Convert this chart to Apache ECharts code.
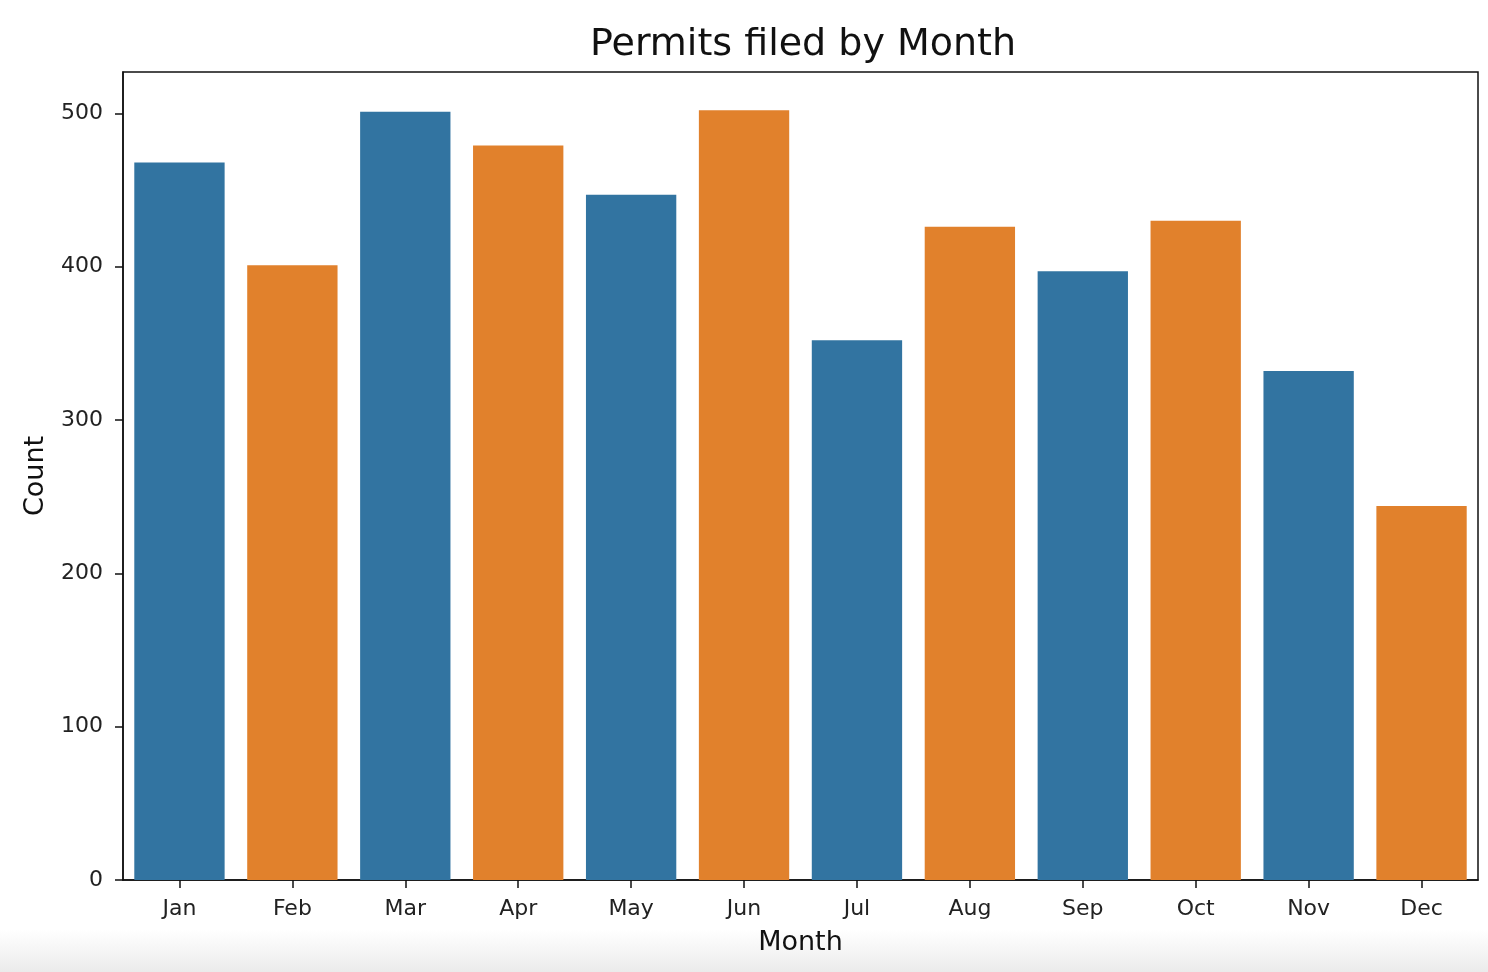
<!DOCTYPE html>
<html>
<head>
<meta charset="utf-8">
<script src="https://cdn.jsdelivr.net/npm/echarts@6/dist/echarts.min.js"></script>
<style>
html,body{margin:0;padding:0;background:#fff;}
#wrap{position:relative;width:1488px;height:972px;}
#shade{position:absolute;left:0;top:930px;width:1488px;height:42px;background:linear-gradient(#ffffff,#ebebeb);}
#chart{position:absolute;left:0;top:0;width:1488px;height:972px;}
</style>
</head>
<body>
<div id="wrap"><div id="shade"></div><div id="chart"></div></div>
<script>
const months = ['Jan','Feb','Mar','Apr','May','Jun','Jul','Aug','Sep','Oct','Nov','Dec'];
const counts = [468, 401, 501, 479, 447, 502, 352, 426, 397, 430, 332, 244];
const barColors = ['#3274a1','#e1812c','#3274a1','#e1812c','#3274a1','#e1812c','#3274a1','#e1812c','#3274a1','#e1812c','#3274a1','#e1812c'];
const yTicks = [0, 100, 200, 300, 400, 500];

const font = 'DejaVu Sans';
const chart = echarts.init(document.getElementById('chart'), null, {renderer:'canvas'});
chart.setOption({
  animation: false,
  backgroundColor: 'transparent',
  title: {
    text: 'Permits filed by Month',
    left: 798, top: 21, textAlign: 'center',
    textStyle: {fontFamily: font, fontSize: 38, fontWeight: 'normal', color: '#111'}
  },
  grid: {left: 123, right: 10, top: 72, bottom: 92, show: true, borderColor: '#111', borderWidth: 1.5, backgroundColor: '#fff'},
  xAxis: {
    type: 'category', data: months,
    name: 'Month', nameLocation: 'middle', nameGap: 49,
    nameTextStyle: {fontFamily: font, fontSize: 27, color: '#111'},
    axisLine: {show: true, lineStyle: {color: '#111', width: 1.5}},
    axisTick: {show: true, alignWithLabel: true, length: 8, lineStyle: {color: '#111', width: 1.5}},
    axisLabel: {fontFamily: font, fontSize: 22, color: '#222', margin: 18}
  },
  yAxis: {
    type: 'value', min: 0, max: 527, interval: 100,
    name: 'Count', nameLocation: 'middle', nameGap: 74,
    nameTextStyle: {fontFamily: font, fontSize: 27, color: '#111'},
    axisLine: {show: true, lineStyle: {color: '#111', width: 1.5}},
    axisTick: {show: true, length: 8, customValues: yTicks, lineStyle: {color: '#111', width: 1.5}},
    axisLabel: {fontFamily: font, fontSize: 22, color: '#222', margin: 20, customValues: yTicks},
    splitLine: {show: false}
  },
  series: [{
    type: 'bar',
    barCategoryGap: '20%',
    data: counts.map((v, i) => ({value: v, itemStyle: {color: barColors[i]}}))
  }]
});
</script>
</body>
</html>
